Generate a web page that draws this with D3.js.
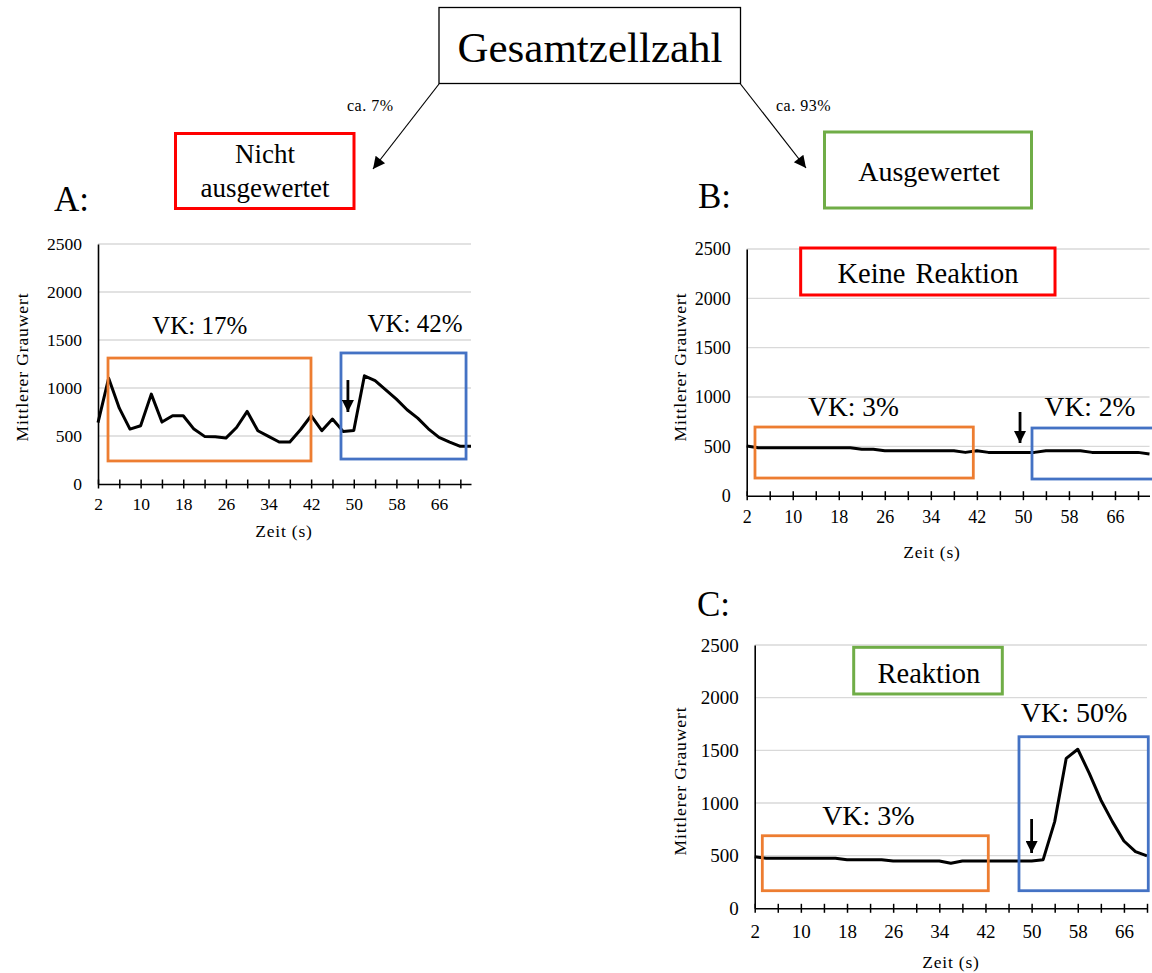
<!DOCTYPE html>
<html>
<head>
<meta charset="utf-8">
<script src="https://cdn.jsdelivr.net/npm/d3@7"></script>
<style>
  body { margin: 0; background: #fff; }
  svg { display: block; }
  text { font-family: "Liberation Serif", "Times New Roman", serif; fill: #000; }
</style>
</head>
<body>
<svg id="fig" width="1152" height="973"></svg>
<script>
// Time points (s)
const timeAB = [2,4,6,8,10,12,14,16,18,20,22,24,26,28,30,32,34,36,38,40,42,44,46,48,50,52,54,56,58,60,62,64,66,68,70,72];
const timeC  = [2,4,6,8,10,12,14,16,18,20,22,24,26,28,30,32,34,36,38,40,42,44,46,48,50,52,54,56,58,60,62,64,66,68,70];

// Mean grey value per panel
const grauwertA = [640,1102,790,572,607,936,645,711,711,572,496,492,478,589,756,555,496,437,437,565,711,555,676,548,558,1127,1078,981,884,773,686,575,485,437,392,392];
const grauwertB = [503,486,486,486,486,486,486,486,486,486,470,470,456,456,456,456,456,456,456,439,456,439,439,439,439,439,456,456,456,456,439,439,439,439,439,422];
const grauwertC = [490,475,475,475,475,475,475,475,462,462,462,462,449,449,449,449,449,427,449,449,449,449,449,449,449,462,823,1424,1510,1282,1029,823,639,538,497];

// Axis ticks
const yTicks = [0,500,1000,1500,2000,2500];
const xTickMarks = [2,6,10,14,18,22,26,30,34,38,42,46,50,54,58,62,66,70];
const xTickLabels = [2,10,18,26,34,42,50,58,66];

const ORANGE = "#ed7d31", BLUE = "#4472c4", RED = "#ff0000", GREEN = "#70ad47";

const svg = d3.select("#fig");

const defs = svg.append("defs");
defs.append("marker")
  .attr("id", "headThin")
  .attr("viewBox", "0 0 10 10").attr("refX", 10).attr("refY", 5)
  .attr("markerWidth", 17).attr("markerHeight", 12)
  .attr("markerUnits", "userSpaceOnUse").attr("orient", "auto")
  .append("path").attr("d", "M0,0 L10,5 L0,10 Z").attr("fill", "#000");
defs.append("marker")
  .attr("id", "headBold")
  .attr("viewBox", "0 0 10 10").attr("refX", 10).attr("refY", 5)
  .attr("markerWidth", 14).attr("markerHeight", 12)
  .attr("markerUnits", "userSpaceOnUse").attr("orient", "auto")
  .append("path").attr("d", "M0,0 L10,5 L0,10 Z").attr("fill", "#000");

// ---- Flow diagram at the top ----
svg.append("rect").attr("x", 439).attr("y", 7.5).attr("width", 301.5).attr("height", 76)
  .attr("fill", "#fff").attr("stroke", "#000").attr("stroke-width", 1.3);
svg.append("text").attr("x", 590).attr("y", 62).attr("text-anchor", "middle")
  .attr("font-size", 43).text("Gesamtzellzahl");

svg.append("line").attr("x1", 439).attr("y1", 84).attr("x2", 373).attr("y2", 169)
  .attr("stroke", "#000").attr("stroke-width", 1.2).attr("marker-end", "url(#headThin)");
svg.append("line").attr("x1", 740.5).attr("y1", 84).attr("x2", 806).attr("y2", 168)
  .attr("stroke", "#000").attr("stroke-width", 1.2).attr("marker-end", "url(#headThin)");

svg.append("text").attr("x", 347).attr("y", 111).attr("font-size", 16).attr("letter-spacing", 0.5).text("ca. 7%");
svg.append("text").attr("x", 776).attr("y", 111).attr("font-size", 16).attr("letter-spacing", 0.5).text("ca. 93%");

svg.append("rect").attr("x", 175.5).attr("y", 133.5).attr("width", 178.5).attr("height", 75)
  .attr("fill", "none").attr("stroke", RED).attr("stroke-width", 3);
svg.append("text").attr("x", 265).attr("y", 163).attr("text-anchor", "middle").attr("font-size", 27).text("Nicht");
svg.append("text").attr("x", 265).attr("y", 197).attr("text-anchor", "middle").attr("font-size", 27).text("ausgewertet");

svg.append("rect").attr("x", 824.5).attr("y", 132).attr("width", 207).attr("height", 76)
  .attr("fill", "none").attr("stroke", GREEN).attr("stroke-width", 3);
svg.append("text").attr("x", 929).attr("y", 181).attr("text-anchor", "middle").attr("font-size", 28).text("Ausgewertet");

svg.append("text").attr("x", 54).attr("y", 211).attr("font-size", 35).text("A:");
svg.append("text").attr("x", 698).attr("y", 208).attr("font-size", 35).text("B:");
svg.append("text").attr("x", 697).attr("y", 616).attr("font-size", 35).text("C:");

// ---- Panels ----
const panels = [
  {
    time: timeAB, values: grauwertA, tMax: 72,
    xRange: [98, 471], yRange: [484, 244],
    tickFont: 17.5, labelDy: 26, vkFont: 25,
    xTitle: [284, 537], yTitle: [22, 367],
    boxes: [
      { t0: 3.88, t1: 41.97, v0: 240, v1: 1312, color: ORANGE },
      { t0: 47.6, t1: 71.07, v0: 260, v1: 1365, color: BLUE }
    ],
    vk: [ { text: "VK: 17%", t: 21.1, v: 1562 }, { text: "VK: 42%", t: 61.5, v: 1583 } ],
    arrow: { t: 48.9, v0: 1083, v1: 750 }
  },
  {
    time: timeAB, values: grauwertB, tMax: 72,
    xRange: [746.7, 1149.5], yRange: [495.7, 249],
    tickFont: 18, labelDy: 27, vkFont: 27.5,
    xTitle: [932, 558], yTitle: [680, 367],
    boxes: [
      { t0: 3.44, t1: 41.38, v0: 179, v1: 696, color: ORANGE },
      { t0: 51.58, t1: 73.5, v0: 169, v1: 686, color: BLUE }
    ],
    vk: [ { text: "VK: 3%", t: 20.56, v: 808 }, { text: "VK: 2%", t: 61.66, v: 808 } ],
    arrow: { t: 49.5, v0: 848, v1: 534 },
    label: { text: "Keine Reaktion", t0: 11.38, t1: 55.58, v0: 2034, v1: 2510, tc: 33.5, vb: 2158, color: RED }
  },
  {
    time: timeC, values: grauwertC, tMax: 70,
    xRange: [754.7, 1147], yRange: [908.3, 645],
    tickFont: 19, labelDy: 30, vkFont: 28,
    xTitle: [951, 968], yTitle: [680, 781],
    boxes: [
      { t0: 3.32, t1: 42.49, v0: 167, v1: 689, color: ORANGE },
      { t0: 47.81, t1: 70.22, v0: 167, v1: 1629, color: BLUE }
    ],
    vk: [ { text: "VK: 3%", t: 21.71, v: 791 }, { text: "VK: 50%", t: 57.35, v: 1772 } ],
    arrow: { t: 50.0, v0: 848, v1: 525 },
    label: { text: "Reaktion", t0: 19.16, t1: 44.92, v0: 2035, v1: 2478, tc: 32.2, vb: 2142, color: GREEN }
  }
];

function drawPanel(p) {
  const x = d3.scaleLinear().domain([2, p.tMax]).range(p.xRange);
  const y = d3.scaleLinear().domain([0, 2500]).range(p.yRange);
  const g = svg.append("g");

  // horizontal gridlines
  g.append("g").selectAll("line").data(yTicks.filter(d => d > 0)).join("line")
    .attr("x1", p.xRange[0]).attr("x2", p.xRange[1])
    .attr("y1", d => y(d)).attr("y2", d => y(d))
    .attr("stroke", "#d9d9d9").attr("stroke-width", 1.3);

  // y axis
  const ya = g.append("g").attr("transform", `translate(${p.xRange[0]},0)`)
    .call(d3.axisLeft(y).tickValues(yTicks).tickFormat(d3.format("d"))
      .tickSize(0).tickPadding(16).tickSizeOuter(0));
  ya.select(".domain").attr("stroke", "#000").attr("stroke-width", 1.6);
  ya.selectAll("text").attr("font-size", p.tickFont).attr("font-family", null);

  // x axis with ticks crossing the baseline
  const xa = g.append("g").attr("transform", `translate(0,${p.yRange[0]})`)
    .call(d3.axisBottom(x).tickValues(xTickMarks).tickSizeOuter(0)
      .tickFormat(d => xTickLabels.includes(d) ? d : ""));
  xa.select(".domain").attr("stroke", "#000").attr("stroke-width", 1.6);
  xa.selectAll(".tick line").attr("y1", -4.5).attr("y2", 4.5).attr("stroke", "#000").attr("stroke-width", 1.5);
  xa.selectAll(".tick text").attr("y", p.labelDy).attr("dy", 0)
    .attr("font-size", p.tickFont).attr("font-family", null);

  // axis titles
  g.append("text").attr("x", p.xTitle[0]).attr("y", p.xTitle[1]).attr("text-anchor", "middle")
    .attr("font-size", 17.5).attr("letter-spacing", 0.8).text("Zeit (s)");
  g.append("text").attr("transform", `translate(${p.yTitle[0] + 6},${p.yTitle[1]}) rotate(-90)`)
    .attr("text-anchor", "middle").attr("font-size", 17.5).attr("letter-spacing", 0.9)
    .text("Mittlerer Grauwert");

  // grey value trace
  const pts = p.time.map((t, i) => [t, p.values[i]]);
  g.append("path").datum(pts)
    .attr("d", d3.line().x(d => x(d[0])).y(d => y(d[1])))
    .attr("fill", "none").attr("stroke", "#000").attr("stroke-width", 3)
    .attr("stroke-linejoin", "round");

  // evaluation windows
  g.append("g").selectAll("rect").data(p.boxes).join("rect")
    .attr("x", d => x(d.t0)).attr("y", d => y(d.v1))
    .attr("width", d => x(d.t1) - x(d.t0)).attr("height", d => y(d.v0) - y(d.v1))
    .attr("fill", "none").attr("stroke", d => d.color).attr("stroke-width", 2.8);

  // coefficient of variation labels
  g.append("g").selectAll("text").data(p.vk).join("text")
    .attr("x", d => x(d.t)).attr("y", d => y(d.v)).attr("text-anchor", "middle")
    .attr("font-size", p.vkFont).text(d => d.text);

  // stimulus arrow
  g.append("line")
    .attr("x1", x(p.arrow.t)).attr("x2", x(p.arrow.t))
    .attr("y1", y(p.arrow.v0)).attr("y2", y(p.arrow.v1))
    .attr("stroke", "#000").attr("stroke-width", 2.8).attr("marker-end", "url(#headBold)");

  // response category label
  if (p.label) {
    const L = p.label;
    g.append("rect").attr("x", x(L.t0)).attr("y", y(L.v1))
      .attr("width", x(L.t1) - x(L.t0)).attr("height", y(L.v0) - y(L.v1))
      .attr("fill", "#fff").attr("stroke", L.color).attr("stroke-width", 3);
    g.append("text").attr("x", x(L.tc)).attr("y", y(L.vb)).attr("text-anchor", "middle")
      .attr("font-size", 28.5).attr("word-spacing", 3).text(L.text);
  }
}

panels.forEach(drawPanel);
</script>
</body>
</html>
